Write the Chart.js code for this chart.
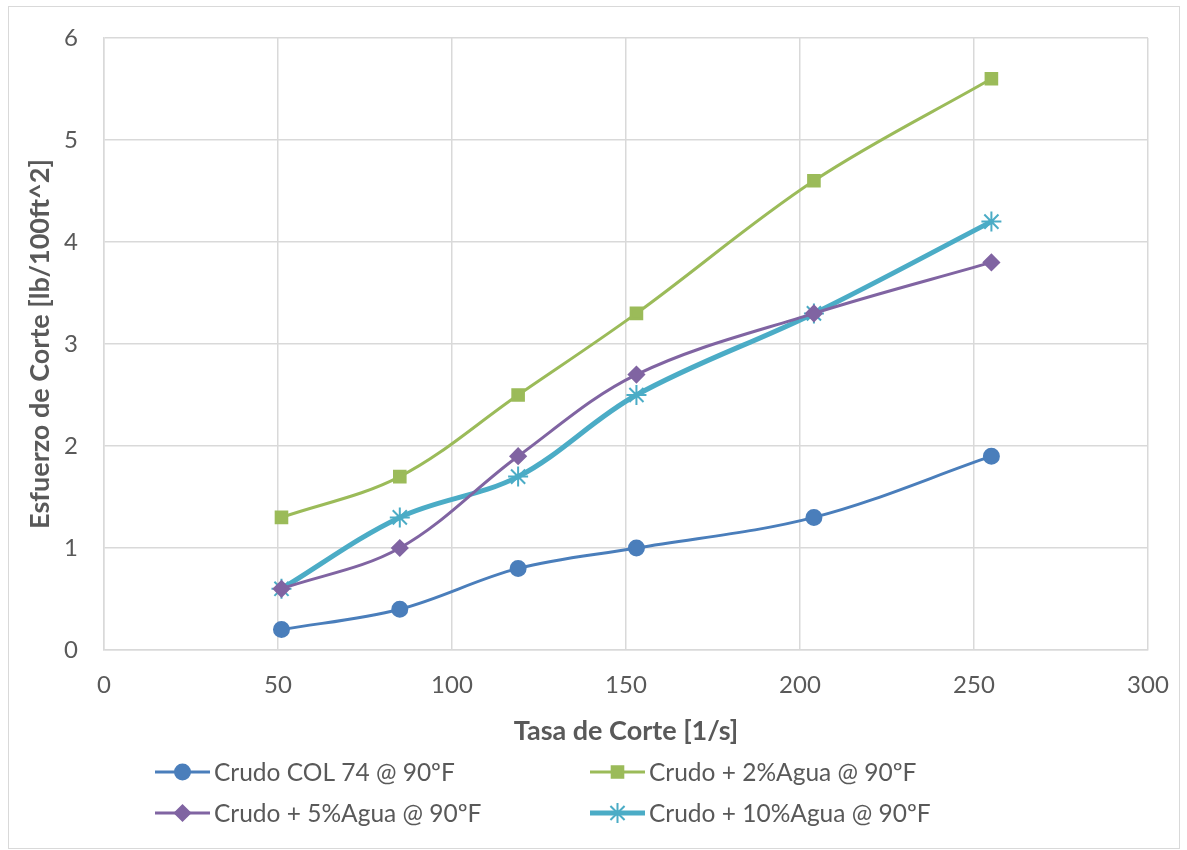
<!DOCTYPE html>
<html><head><meta charset="utf-8">
<script src="https://cdn.jsdelivr.net/npm/chart.js@4"></script>
<style>html,body{margin:0;padding:0;background:#fff}#wrap{width:1187px;height:850px}</style>
</head><body><div id="wrap"><canvas id="c" width="1187" height="850"></canvas></div>
<script>
const shearRates = [51, 85, 119, 153, 204, 255];
const crudoCol74 = [0.2, 0.4, 0.8, 1.0, 1.3, 1.9];
const agua2 = [1.3, 1.7, 2.5, 3.3, 4.6, 5.6];
const agua5 = [0.6, 1.0, 1.9, 2.7, 3.3, 3.8];
const agua10 = [0.6, 1.3, 1.7, 2.5, 3.3, 4.2];
const seriesNames = ['Crudo COL 74 @ 90ºF', 'Crudo + 2%Agua @ 90ºF', 'Crudo + 5%Agua @ 90ºF', 'Crudo + 10%Agua @ 90ºF'];
const xTitle = 'Tasa de Corte [1/s]';
const yTitle = 'Esfuerzo de Corte [lb/100ft^2]';

const FONT = 'Lato, "Open Sans", sans-serif';
const pts = arr => arr.map((v, i) => ({x: shearRates[i], y: v}));

const styles = [
  {color: '#4A7EBB', style: 'circle', r: 7, bw: 3, lw: 3},
  {color: '#9BBB59', style: 'rect', r: 7.5, bw: 3, lw: 3},
  {color: '#8064A2', style: 'rectRot', r: 7, bw: 3, lw: 3},
  {color: '#4BACC6', style: 'star', r: 10, bw: 2, lw: 5}
];
const allData = [crudoCol74, agua2, agua5, agua10];

const datasets = allData.map((d, i) => ({
  label: seriesNames[i],
  data: pts(d),
  borderColor: styles[i].color,
  backgroundColor: styles[i].color,
  borderWidth: styles[i].lw,
  pointStyle: styles[i].style,
  pointRadius: styles[i].r,
  pointBorderWidth: styles[i].bw,
  pointBackgroundColor: styles[i].color,
  pointBorderColor: styles[i].color,
  tension: 0.35,
  fill: false
}));

const bgBorder = {
  id: 'bgBorder',
  beforeDraw(chart) {
    const ctx = chart.ctx;
    ctx.save();
    ctx.fillStyle = '#fff';
    ctx.fillRect(0, 0, chart.width, chart.height);
    ctx.strokeStyle = '#d9d9d9';
    ctx.lineWidth = 1;
    ctx.strokeRect(8.5, 6.5, 1171, 842);
    ctx.restore();
  }
};

const customLegend = {
  id: 'customLegend',
  afterDraw(chart) {
    const ctx = chart.ctx;
    const cols = [155, 590];
    const rows = [772, 813];
    chart.data.datasets.forEach((ds, i) => {
      const x0 = cols[i % 2], y = rows[Math.floor(i / 2)];
      ctx.save();
      ctx.strokeStyle = ds.borderColor;
      ctx.lineWidth = ds.borderWidth;
      ctx.beginPath(); ctx.moveTo(x0, y); ctx.lineTo(x0 + 55, y); ctx.stroke();
      ctx.lineWidth = ds.pointBorderWidth;
      ctx.fillStyle = ds.pointBackgroundColor;
      ctx.strokeStyle = ds.pointBorderColor;
      Chart.helpers.drawPoint(ctx, {pointStyle: ds.pointStyle, radius: ds.pointRadius, borderWidth: ds.pointBorderWidth}, x0 + 27.5, y);
      ctx.fillStyle = '#595959';
      ctx.font = '24.5px ' + FONT;
      ctx.textBaseline = 'middle';
      ctx.textAlign = 'left';
      ctx.fillText(ds.label, x0 + 59, y + 1);
      ctx.restore();
    });
  }
};

new Chart(document.getElementById('c'), {
  type: 'line',
  data: {datasets},
  plugins: [bgBorder, customLegend],
  options: {
    responsive: false,
    animation: false,
    layout: {padding: {top: 38, right: 39, left: 8, bottom: 100}},
    plugins: {legend: {display: false}, tooltip: {enabled: false}},
    scales: {
      x: {
        type: 'linear', min: 0, max: 300,
        ticks: {stepSize: 50, color: '#595959', font: {family: FONT, size: 24}, padding: 21},
        grid: {color: '#d9d9d9', lineWidth: 1.5, drawTicks: false},
        border: {color: '#d9d9d9', width: 1.5},
        title: {display: true, text: xTitle, color: '#595959', font: {family: FONT, size: 27, weight: 'bold'}, padding: {top: 0, bottom: 3}},
        afterFit(s) { s.height = 100; s.paddingLeft = 0; s.paddingRight = 0; }
      },
      y: {
        min: 0, max: 6,
        ticks: {stepSize: 1, color: '#595959', font: {family: FONT, size: 24}, padding: 26},
        grid: {color: '#d9d9d9', lineWidth: 1.5, drawTicks: false},
        border: {color: '#d9d9d9', width: 1.5},
        title: {display: true, text: yTitle, color: '#595959', font: {family: FONT, size: 27, weight: 'bold'}, padding: {top: 16, bottom: 0}},
        afterFit(s) { s.width = 96; s.paddingTop = 0; s.paddingBottom = 0; }
      }
    }
  }
});
</script></body></html>
